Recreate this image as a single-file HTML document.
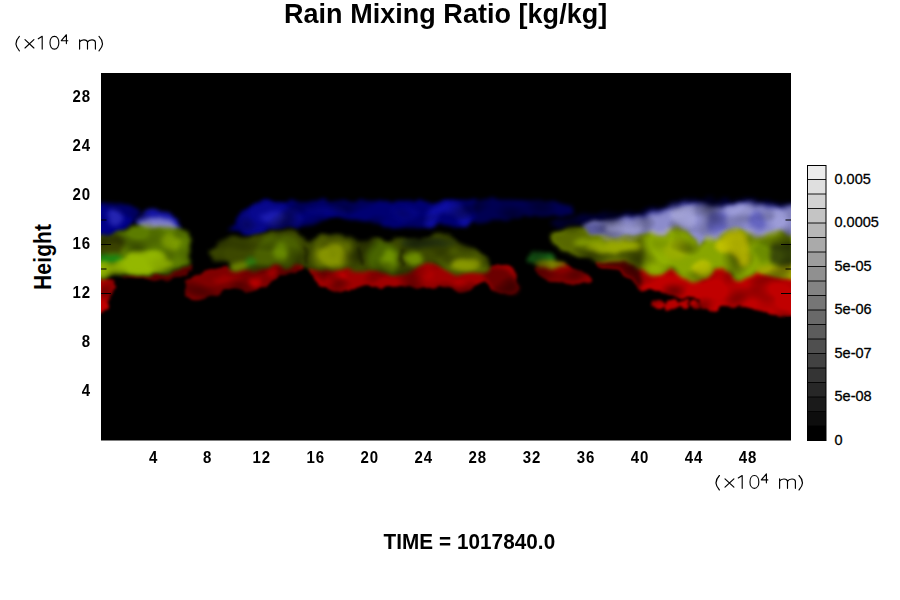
<!DOCTYPE html>
<html><head><meta charset="utf-8"><title>Rain Mixing Ratio</title>
<style>
html,body{margin:0;padding:0;background:#fff;}
body{width:900px;height:600px;position:relative;overflow:hidden;font-family:"Liberation Sans",sans-serif;color:#000;}
#plot{position:absolute;left:0;top:0;width:900px;height:600px;}
.title{position:absolute;left:284px;top:-1.8px;font-weight:bold;font-size:27px;line-height:30px;white-space:nowrap;letter-spacing:0.03px;transform:scale(1,1.045);transform-origin:0 0;}
.time{position:absolute;left:383.5px;top:529.2px;font-weight:bold;font-size:20.7px;line-height:24px;white-space:nowrap;letter-spacing:0.06px;transform:scale(1,1.06);transform-origin:0 0;}
.hgt{position:absolute;left:29.5px;top:290px;font-weight:bold;font-size:21px;line-height:24px;white-space:nowrap;transform:rotate(-90deg) scale(1,1.11);transform-origin:0 0;letter-spacing:0.15px;}
.yl{position:absolute;left:50px;width:41px;text-align:right;font-weight:bold;font-size:15px;line-height:20px;letter-spacing:0.9px;transform:scale(1,1.05);}
.xl{position:absolute;top:447.9px;width:40px;text-align:center;font-weight:bold;font-size:15px;line-height:20px;letter-spacing:0.9px;transform:scale(1,1.05);}
.cl{position:absolute;left:834.5px;font-size:14.5px;line-height:20px;letter-spacing:0px;white-space:nowrap;-webkit-text-stroke:0.3px #000;}
</style></head><body>
<svg id="plot" width="900" height="600" viewBox="0 0 900 600">
<defs>
<filter id="b1_5" x="90" y="180" width="710" height="150" filterUnits="userSpaceOnUse" color-interpolation-filters="sRGB"><feTurbulence type="fractalNoise" baseFrequency="0.07 0.09" numOctaves="2" seed="7" result="n"/><feDisplacementMap in="SourceGraphic" in2="n" scale="9" xChannelSelector="R" yChannelSelector="G" result="d"/><feGaussianBlur in="d" stdDeviation="1.5"/></filter>
<filter id="b1_6" x="90" y="180" width="710" height="150" filterUnits="userSpaceOnUse" color-interpolation-filters="sRGB"><feTurbulence type="fractalNoise" baseFrequency="0.07 0.09" numOctaves="2" seed="7" result="n"/><feDisplacementMap in="SourceGraphic" in2="n" scale="9" xChannelSelector="R" yChannelSelector="G" result="d"/><feGaussianBlur in="d" stdDeviation="1.6"/></filter>
<filter id="b2_0" x="90" y="180" width="710" height="150" filterUnits="userSpaceOnUse" color-interpolation-filters="sRGB"><feTurbulence type="fractalNoise" baseFrequency="0.07 0.09" numOctaves="2" seed="7" result="n"/><feDisplacementMap in="SourceGraphic" in2="n" scale="9" xChannelSelector="R" yChannelSelector="G" result="d"/><feGaussianBlur in="d" stdDeviation="2.0"/></filter>
<filter id="b2_5" x="90" y="180" width="710" height="150" filterUnits="userSpaceOnUse" color-interpolation-filters="sRGB"><feTurbulence type="fractalNoise" baseFrequency="0.07 0.09" numOctaves="2" seed="7" result="n"/><feDisplacementMap in="SourceGraphic" in2="n" scale="9" xChannelSelector="R" yChannelSelector="G" result="d"/><feGaussianBlur in="d" stdDeviation="2.5"/></filter>
<filter id="mt" x="101" y="195" width="690" height="125" filterUnits="userSpaceOnUse" color-interpolation-filters="sRGB"><feTurbulence type="fractalNoise" baseFrequency="0.04 0.06" numOctaves="1" seed="11"/><feColorMatrix type="matrix" values="0 0 0 0 0  0 0 0 0 0  0 0 0 0 0  1.8 0 0 0 -0.8"/><feGaussianBlur stdDeviation="1.2"/></filter>
<clipPath id="pc"><rect x="101" y="73" width="690" height="367.5"/></clipPath>
</defs>
<rect x="101" y="73" width="690" height="367.5" fill="#000"/>
<g clip-path="url(#pc)">
<g filter="url(#b2_5)" opacity="1">
<path d="M548.0 222.0C548.7 220.5 556.7 219.3 562.0 218.0C567.3 216.7 572.0 214.9 580.0 214.0C588.0 213.1 600.0 213.0 610.0 212.5C620.0 212.0 631.7 212.1 640.0 211.0C648.3 209.9 653.3 208.0 660.0 206.0C666.7 204.0 673.3 200.0 680.0 199.0C686.7 198.0 691.2 200.0 700.0 200.0C708.8 200.0 723.0 199.0 733.0 199.0C743.0 199.0 751.7 199.3 760.0 200.0C768.3 200.7 776.8 202.2 783.0 203.0C789.2 203.8 794.7 203.0 797.0 205.0C799.3 207.0 813.2 213.3 797.0 215.0C780.8 216.7 722.8 215.0 700.0 215.0C677.2 215.0 673.3 214.3 660.0 215.0C646.7 215.7 631.7 217.3 620.0 219.0C608.3 220.7 597.5 223.5 590.0 225.0C582.5 226.5 580.3 227.7 575.0 228.0C569.7 228.3 562.5 228.0 558.0 227.0C553.5 226.0 547.3 223.5 548.0 222.0Z" fill="#000034"/>
<path d="M610.0 221.0C614.2 219.7 619.2 219.0 625.0 218.0C630.8 217.0 640.0 216.1 645.0 215.0C650.0 213.9 652.2 212.6 655.0 211.5C657.8 210.4 659.8 209.4 661.7 208.5C663.7 207.6 664.5 206.9 666.7 206.0C668.9 205.1 672.3 203.8 675.0 203.0C677.7 202.2 678.8 201.5 683.0 201.5C687.2 201.5 694.5 202.6 700.0 203.0C705.5 203.4 710.5 204.1 716.0 204.0C721.5 203.9 726.0 202.6 733.0 202.5C740.0 202.4 749.7 202.8 758.0 203.5C766.3 204.2 776.5 205.8 783.0 206.5C789.5 207.2 794.7 205.8 797.0 208.0C799.3 210.2 813.2 218.0 797.0 220.0C780.8 222.0 726.2 219.7 700.0 220.0C673.8 220.3 656.7 221.0 640.0 222.0C623.3 223.0 605.0 226.2 600.0 226.0C595.0 225.8 605.8 222.3 610.0 221.0Z" fill="#34348c"/>
</g>
<g filter="url(#b2_0)" opacity="1">
<path d="M98.0 204.5C100.8 198.9 110.0 204.4 115.0 204.5C120.0 204.6 124.3 204.3 128.0 205.0C131.7 205.7 135.0 207.3 137.0 208.5C139.0 209.7 139.8 210.8 140.0 212.0C140.2 213.2 140.5 213.3 138.0 216.0C135.5 218.7 128.5 224.7 125.0 228.0C121.5 231.3 119.8 234.2 117.0 236.0C114.2 237.8 111.2 238.7 108.0 239.0C104.8 239.3 99.7 243.8 98.0 238.0C96.3 232.2 95.2 210.1 98.0 204.5Z" fill="#000088"/>
<path d="M136.0 223.0C136.0 221.0 138.2 218.2 140.0 216.0C141.8 213.8 144.5 211.2 147.0 210.0C149.5 208.8 151.7 208.5 155.0 209.0C158.3 209.5 163.2 211.2 167.0 213.0C170.8 214.8 175.5 218.2 178.0 220.0C180.5 221.8 181.7 222.7 182.0 224.0C182.3 225.3 183.7 227.2 180.0 228.0C176.3 228.8 166.7 229.0 160.0 229.0C153.3 229.0 144.0 229.0 140.0 228.0C136.0 227.0 136.0 225.0 136.0 223.0Z" fill="#1414a4"/>
<path d="M228.0 228.5C229.0 227.2 232.7 223.2 235.0 220.5C237.3 217.8 239.5 215.0 242.0 212.5C244.5 210.0 247.3 207.1 250.0 205.5C252.7 203.9 255.5 203.7 258.0 203.0C260.5 202.3 258.8 201.8 265.0 201.5C271.2 201.2 284.5 201.7 295.0 201.5C305.5 201.3 316.8 200.5 328.0 200.5C339.2 200.5 350.8 201.5 362.0 201.5C373.2 201.5 384.5 200.6 395.0 200.5C405.5 200.4 414.2 201.0 425.0 201.0C435.8 201.0 450.5 200.5 460.0 200.5C469.5 200.5 478.3 197.7 482.0 201.0C485.7 204.3 484.0 217.1 482.0 220.5C480.0 223.9 474.2 220.3 470.0 221.5C465.8 222.7 461.7 227.2 456.7 227.5C451.7 227.8 445.6 223.3 440.0 223.5C434.4 223.7 428.6 228.0 423.0 228.5C417.4 229.0 412.2 226.9 406.7 226.5C401.2 226.1 396.1 226.8 390.0 226.0C383.9 225.2 376.4 222.8 370.0 221.5C363.6 220.2 357.0 219.3 351.7 218.5C346.4 217.7 343.3 216.0 338.0 216.5C332.7 217.0 325.8 219.8 320.0 221.5C314.2 223.2 308.6 225.5 303.0 226.5C297.4 227.5 292.2 227.2 286.7 227.5C281.2 227.8 274.2 227.5 270.0 228.5C265.8 229.5 265.9 232.7 261.7 233.5C257.5 234.3 249.4 233.8 245.0 233.5C240.6 233.2 237.7 232.3 235.0 231.5C232.3 230.7 230.2 229.0 229.0 228.5C227.8 228.0 227.0 229.8 228.0 228.5Z" fill="#000072"/>
<path d="M476.0 201.5C480.0 197.7 492.7 199.8 500.0 199.5C507.3 199.2 512.5 199.7 520.0 200.0C527.5 200.3 537.5 200.8 545.0 201.5C552.5 202.2 560.2 203.4 565.0 204.5C569.8 205.6 572.8 206.8 574.0 208.0C575.2 209.2 574.3 210.8 572.0 212.0C569.7 213.2 565.3 214.2 560.0 215.0C554.7 215.8 546.7 216.5 540.0 217.0C533.3 217.5 526.7 217.5 520.0 218.0C513.3 218.5 507.3 219.2 500.0 220.0C492.7 220.8 480.0 225.6 476.0 222.5C472.0 219.4 472.0 205.3 476.0 201.5Z" fill="#000052"/>
</g>
<g filter="url(#b2_5)" opacity="1">
<ellipse cx="115" cy="217" rx="8" ry="8" fill="#2424b0"/>
<path d="M238.0 222.0C239.3 218.8 243.0 213.0 246.0 210.0C249.0 207.0 251.2 205.2 256.0 204.0C260.8 202.8 269.0 202.7 275.0 203.0C281.0 203.3 287.8 204.2 292.0 206.0C296.2 207.8 298.7 210.7 300.0 214.0C301.3 217.3 302.5 223.7 300.0 226.0C297.5 228.3 290.0 227.5 285.0 228.0C280.0 228.5 273.8 228.2 270.0 229.0C266.2 229.8 266.0 232.3 262.0 233.0C258.0 233.7 250.0 233.7 246.0 233.0C242.0 232.3 239.3 230.8 238.0 229.0C236.7 227.2 236.7 225.2 238.0 222.0Z" fill="#08088e"/>
<ellipse cx="272" cy="218" rx="12" ry="6" fill="#1c1cb0"/>
<ellipse cx="326" cy="211" rx="22" ry="4.5" fill="#040484"/>
<ellipse cx="405" cy="214" rx="13" ry="8" fill="#040480"/>
<path d="M424.0 226.0C423.7 223.2 426.0 215.7 428.0 212.0C430.0 208.3 432.7 205.7 436.0 204.0C439.3 202.3 444.0 201.7 448.0 202.0C452.0 202.3 456.7 204.0 460.0 206.0C463.3 208.0 466.3 211.3 468.0 214.0C469.7 216.7 471.0 220.0 470.0 222.0C469.0 224.0 464.3 226.7 462.0 226.0C459.7 225.3 458.3 220.2 456.0 218.0C453.7 215.8 450.7 213.3 448.0 213.0C445.3 212.7 442.0 213.8 440.0 216.0C438.0 218.2 437.7 223.8 436.0 226.0C434.3 228.2 432.0 229.0 430.0 229.0C428.0 229.0 424.3 228.8 424.0 226.0Z" fill="#0e0ea2"/>
</g>
<g filter="url(#b2_5)" opacity="1">
<path d="M584.0 227.0C585.8 225.3 589.0 224.2 595.0 223.0C601.0 221.8 611.7 220.8 620.0 220.0C628.3 219.2 639.2 218.8 645.0 218.0C650.8 217.2 652.2 215.9 655.0 215.0C657.8 214.1 659.8 213.5 661.7 212.5C663.7 211.5 664.5 210.1 666.7 209.0C668.9 207.9 672.3 206.8 675.0 206.0C677.7 205.2 678.8 204.5 683.0 204.5C687.2 204.5 694.5 205.6 700.0 206.0C705.5 206.4 710.5 207.1 716.0 207.0C721.5 206.9 726.0 205.6 733.0 205.5C740.0 205.4 749.7 205.8 758.0 206.5C766.3 207.2 776.5 208.8 783.0 209.5C789.5 210.2 794.7 205.8 797.0 211.0C799.3 216.2 798.1 236.1 797.0 241.0C795.9 245.9 793.9 241.9 790.5 240.7C787.1 239.5 780.7 234.3 776.7 234.0C772.7 233.7 770.0 237.9 766.7 239.0C763.4 240.1 760.0 241.0 756.7 240.7C753.4 240.4 750.0 238.5 746.7 237.0C743.4 235.5 739.8 232.0 736.7 231.5C733.6 231.0 731.3 232.5 728.0 234.0C724.7 235.5 720.2 239.4 716.7 240.7C713.2 242.0 709.5 240.6 706.7 242.0C703.9 243.4 702.3 248.7 700.0 249.0C697.7 249.3 695.8 246.8 693.0 244.0C690.2 241.2 686.0 234.2 683.0 232.0C680.0 229.8 678.3 229.9 675.0 230.7C671.7 231.5 667.2 235.6 663.0 237.0C658.8 238.4 654.4 238.7 650.0 239.0C645.6 239.3 641.7 238.6 636.7 239.0C631.7 239.4 627.0 241.7 620.0 241.5C613.0 241.3 601.0 239.4 595.0 238.0C589.0 236.6 585.8 234.8 584.0 233.0C582.2 231.2 582.2 228.7 584.0 227.0Z" fill="#8c8ccc"/>
<path d="M139.0 221.0C140.7 219.0 145.7 218.3 150.0 218.0C154.3 217.7 160.5 218.2 165.0 219.0C169.5 219.8 174.7 221.2 177.0 223.0C179.3 224.8 181.8 228.7 179.0 230.0C176.2 231.3 166.5 231.0 160.0 231.0C153.5 231.0 143.5 231.7 140.0 230.0C136.5 228.3 137.3 223.0 139.0 221.0Z" fill="#7c7ccc"/>
</g>
<g filter="url(#b2_5)" opacity="1">
<ellipse cx="717" cy="222" rx="10" ry="11" fill="#6464c0"/>
<ellipse cx="757" cy="220" rx="9" ry="9" fill="#6464c0"/>
<ellipse cx="624" cy="229" rx="20" ry="4.5" fill="#9c9cd4"/>
<ellipse cx="685" cy="217" rx="12" ry="11" fill="#a4a4dc"/>
<ellipse cx="681" cy="215" rx="5" ry="6" fill="#b4b4e4"/>
<ellipse cx="737" cy="211" rx="13" ry="5" fill="#9c9cd8"/>
<ellipse cx="781" cy="221" rx="9" ry="11" fill="#9c9cd8"/>
<ellipse cx="595" cy="229" rx="13" ry="5.5" fill="#5c5ca0"/>
</g>
<g filter="url(#b1_6)" opacity="1">
<path d="M98.0 279.5C100.0 273.8 107.3 279.2 110.0 280.0C112.7 280.8 113.2 282.7 114.0 284.0C114.8 285.3 115.2 286.2 115.0 288.0C114.8 289.8 113.8 292.7 113.0 295.0C112.2 297.3 111.2 299.8 110.0 302.0C108.8 304.2 108.0 306.0 106.0 308.0C104.0 310.0 99.3 318.8 98.0 314.0C96.7 309.2 96.0 285.2 98.0 279.5Z" fill="#c00000"/>
<path d="M120.0 276.0C120.0 275.4 130.0 274.8 135.0 274.5C140.0 274.2 144.8 273.9 150.0 274.0C155.2 274.1 161.0 275.7 166.0 275.0C171.0 274.3 176.2 272.2 180.0 270.0C183.8 267.8 187.3 262.3 189.0 262.0C190.7 261.7 190.5 265.8 190.0 268.0C189.5 270.2 188.5 273.2 186.0 275.0C183.5 276.8 180.2 278.2 175.0 279.0C169.8 279.8 161.7 279.7 155.0 279.5C148.3 279.3 140.8 278.6 135.0 278.0C129.2 277.4 120.0 276.6 120.0 276.0Z" fill="#5c0000"/>
<path d="M185.8 283.0C186.6 280.2 188.8 278.0 192.0 276.0C195.2 274.0 200.3 272.3 205.0 271.0C209.7 269.7 215.5 268.8 220.0 268.0C224.5 267.2 227.8 266.3 232.0 266.0C236.2 265.7 240.1 265.9 245.0 266.0C249.9 266.1 257.0 267.1 261.7 266.3C266.4 265.5 268.8 261.3 273.0 261.0C277.2 260.7 283.0 264.9 286.7 264.7C290.4 264.5 292.3 260.0 295.0 259.7C297.7 259.4 301.7 261.3 303.0 263.0C304.3 264.7 304.3 268.7 303.0 270.0C301.7 271.3 299.2 269.9 295.0 271.0C290.8 272.1 283.5 273.9 278.0 276.7C272.5 279.5 266.7 285.4 262.0 288.0C257.3 290.6 253.3 291.7 250.0 292.0C246.7 292.3 244.5 290.7 242.0 290.0C239.5 289.3 237.8 288.0 235.0 288.0C232.2 288.0 228.8 289.0 225.0 290.0C221.2 291.0 216.2 292.3 212.0 294.0C207.8 295.7 203.3 299.2 200.0 300.0C196.7 300.8 194.2 300.2 192.0 299.0C189.8 297.8 188.0 295.7 187.0 293.0C186.0 290.3 185.0 285.8 185.8 283.0Z" fill="#800000"/>
<path d="M308.0 265.5C308.6 264.2 311.7 267.5 315.0 267.5C318.3 267.5 324.4 266.3 328.0 265.5C331.6 264.7 333.9 262.5 336.7 262.5C339.5 262.5 340.8 264.9 345.0 265.5C349.2 266.1 356.7 265.5 361.7 265.8C366.7 266.1 369.4 266.7 375.0 267.5C380.6 268.3 389.7 270.2 395.0 270.5C400.3 270.8 403.4 270.4 406.7 269.2C410.0 268.0 412.3 265.2 415.0 263.5C417.7 261.8 420.8 259.9 423.0 259.2C425.2 258.5 425.7 258.6 428.0 259.2C430.3 259.8 434.2 261.4 437.0 262.5C439.8 263.6 441.7 263.8 445.0 265.5C448.3 267.2 452.0 271.7 456.7 272.5C461.4 273.3 467.8 271.3 473.0 270.5C478.2 269.7 484.3 268.5 488.0 267.5C491.7 266.5 492.2 264.8 495.0 264.5C497.8 264.2 501.5 264.2 505.0 265.5C508.5 266.8 514.0 268.9 516.0 272.5C518.0 276.1 517.7 283.6 517.0 287.0C516.3 290.4 514.5 292.0 512.0 293.0C509.5 294.0 505.3 294.0 502.0 293.0C498.7 292.0 495.0 289.0 492.0 287.0C489.0 285.0 486.3 281.3 484.0 281.0C481.7 280.7 480.3 283.5 478.0 285.0C475.7 286.5 472.7 288.9 470.0 290.0C467.3 291.1 465.0 291.7 462.0 291.5C459.0 291.3 454.6 289.6 452.0 289.0C449.4 288.4 448.7 288.3 446.7 288.0C444.7 287.7 443.6 287.0 440.0 287.0C436.4 287.0 430.0 288.0 425.0 288.0C420.0 288.0 414.2 287.3 410.0 287.0C405.8 286.7 402.5 286.1 400.0 286.0C397.5 285.9 398.7 286.6 395.0 286.7C391.3 286.8 385.0 286.5 378.0 286.7C371.0 286.9 359.9 287.2 353.0 288.0C346.1 288.8 340.9 291.5 336.7 291.7C332.5 291.9 330.8 290.4 328.0 289.0C325.2 287.6 322.7 285.3 320.0 283.0C317.3 280.7 313.7 277.9 311.7 275.0C309.7 272.1 307.4 266.8 308.0 265.5Z" fill="#a00000"/>
<path d="M535.0 266.0C536.3 264.4 540.8 263.8 545.0 263.5C549.2 263.2 555.8 263.5 560.0 264.0C564.2 264.5 566.3 265.5 570.0 266.7C573.7 267.9 578.7 269.3 582.0 271.0C585.3 272.7 588.4 275.0 590.0 276.7C591.6 278.4 592.4 279.9 591.7 281.0C591.0 282.1 588.3 283.0 586.0 283.5C583.7 284.0 581.5 284.1 578.0 284.0C574.5 283.9 569.2 283.4 565.0 283.0C560.8 282.6 556.3 282.2 553.0 281.5C549.7 280.8 547.7 280.4 545.0 279.0C542.3 277.6 538.7 275.2 537.0 273.0C535.3 270.8 533.7 267.6 535.0 266.0Z" fill="#8a0000"/>
<path d="M598.0 260.5C599.0 258.6 602.3 257.5 606.0 256.5C609.7 255.5 615.5 254.3 620.0 254.5C624.5 254.7 629.7 256.2 633.0 257.5C636.3 258.8 637.2 260.7 640.0 262.5C642.8 264.3 646.7 267.2 650.0 268.5C653.3 269.8 656.7 271.2 660.0 270.5C663.3 269.8 666.7 264.2 670.0 264.5C673.3 264.8 675.5 270.3 680.0 272.5C684.5 274.7 692.0 277.8 696.7 277.5C701.4 277.2 704.1 272.8 708.0 270.5C711.9 268.2 716.3 264.0 720.0 263.5C723.7 263.0 727.0 265.2 730.0 267.5C733.0 269.8 734.7 276.5 738.0 277.5C741.3 278.5 746.9 275.5 750.0 273.5C753.1 271.5 753.9 266.3 756.7 265.5C759.5 264.7 760.0 267.3 766.7 268.5C773.4 269.7 792.0 264.9 797.0 272.5C802.0 280.1 800.5 307.1 797.0 314.0C793.5 320.9 782.2 314.5 776.0 314.0C769.8 313.5 765.2 312.2 760.0 311.0C754.8 309.8 749.2 307.8 745.0 307.0C740.8 306.2 738.5 306.3 735.0 306.0C731.5 305.7 726.8 304.2 724.0 305.0C721.2 305.8 720.0 309.8 718.0 311.0C716.0 312.2 714.0 313.3 712.0 312.5C710.0 311.7 708.0 308.1 706.0 306.0C704.0 303.9 702.7 301.3 700.0 300.0C697.3 298.7 694.0 298.5 690.0 298.0C686.0 297.5 681.0 298.0 676.0 297.0C671.0 296.0 666.0 293.3 660.0 292.0C654.0 290.7 645.0 291.2 640.0 289.0C635.0 286.8 633.3 282.0 630.0 279.0C626.7 276.0 623.3 272.7 620.0 271.0C616.7 269.3 613.3 269.5 610.0 269.0C606.7 268.5 602.0 269.4 600.0 268.0C598.0 266.6 597.0 262.4 598.0 260.5Z" fill="#c00000"/>
<ellipse cx="658" cy="304.5" rx="7" ry="4.5" fill="#b80000"/>
<ellipse cx="672" cy="304.5" rx="7" ry="4.5" fill="#b80000"/>
<ellipse cx="684" cy="304" rx="5" ry="4" fill="#b80000"/>
<ellipse cx="695" cy="305" rx="4.5" ry="4" fill="#b80000"/>
<ellipse cx="705" cy="304.5" rx="5" ry="4.5" fill="#b80000"/>
</g>
<g filter="url(#b2_0)" opacity="1">
<ellipse cx="255" cy="284" rx="6" ry="5" fill="#b40000"/>
<ellipse cx="271" cy="272" rx="6" ry="4" fill="#b40000"/>
<ellipse cx="228" cy="280" rx="14" ry="5" fill="#980000"/>
<ellipse cx="335" cy="277" rx="10" ry="6" fill="#cc0000"/>
<ellipse cx="460" cy="285" rx="6" ry="4" fill="#b80000"/>
<ellipse cx="425" cy="272" rx="10" ry="7" fill="#b00000"/>
<path d="M480.0 267.0C481.3 265.2 488.2 266.0 492.0 266.5C495.8 267.0 499.7 268.2 503.0 270.0C506.3 271.8 509.5 274.5 512.0 277.0C514.5 279.5 517.2 282.5 518.0 285.0C518.8 287.5 518.7 290.4 517.0 292.0C515.3 293.6 511.2 294.7 508.0 294.5C504.8 294.3 501.0 292.8 498.0 291.0C495.0 289.2 492.3 286.3 490.0 284.0C487.7 281.7 485.7 279.8 484.0 277.0C482.3 274.2 478.7 268.8 480.0 267.0Z" fill="#6c0000"/>
<path d="M598.0 263.0C599.0 261.5 602.3 260.0 606.0 259.0C609.7 258.0 615.5 256.8 620.0 257.0C624.5 257.2 629.7 258.7 633.0 260.0C636.3 261.3 638.8 260.3 640.0 265.0C641.2 269.7 641.7 285.7 640.0 288.0C638.3 290.3 633.3 281.8 630.0 279.0C626.7 276.2 623.3 272.7 620.0 271.0C616.7 269.3 613.3 269.5 610.0 269.0C606.7 268.5 602.0 269.0 600.0 268.0C598.0 267.0 597.0 264.5 598.0 263.0Z" fill="#500000"/>
</g>
<g filter="url(#b2_0)" opacity="1">
<path d="M98.0 238.0C99.7 231.5 104.0 238.2 108.0 237.0C112.0 235.8 117.5 232.5 121.7 230.8C125.9 229.1 128.3 227.2 133.0 226.7C137.7 226.1 144.7 227.4 150.0 227.5C155.3 227.6 160.0 227.4 165.0 227.5C170.0 227.6 176.4 227.3 180.0 228.0C183.6 228.7 185.0 229.7 186.7 231.7C188.4 233.7 189.3 237.8 190.0 240.0C190.7 242.2 190.8 242.5 190.8 245.0C190.8 247.5 190.5 252.2 190.0 255.0C189.5 257.8 189.7 259.2 188.0 261.7C186.3 264.2 183.6 267.8 180.0 270.0C176.4 272.2 171.7 274.4 166.7 275.0C161.7 275.6 155.6 273.7 150.0 273.5C144.4 273.3 138.8 273.7 133.0 274.0C127.2 274.3 120.8 275.2 115.0 275.5C109.2 275.8 100.8 282.2 98.0 276.0C95.2 269.8 96.3 244.5 98.0 238.0Z" fill="#5c7c00"/>
<path d="M208.0 253.0C208.0 251.0 211.9 249.2 215.0 247.0C218.1 244.8 221.7 241.7 226.7 240.0C231.7 238.3 239.2 237.5 245.0 236.7C250.8 235.9 256.7 236.0 261.7 235.0C266.7 234.0 270.0 231.4 275.0 230.8C280.0 230.2 287.0 230.7 291.7 231.7C296.4 232.7 299.7 235.3 303.0 236.7C306.3 238.1 308.9 240.0 311.7 240.0C314.5 240.0 316.7 237.7 320.0 236.7C323.3 235.7 327.0 234.2 331.7 234.0C336.4 233.8 343.6 234.5 348.0 235.8C352.4 237.1 355.2 241.0 358.0 241.7C360.8 242.4 361.7 240.3 365.0 240.0C368.3 239.7 373.8 239.5 378.0 240.0C382.2 240.5 386.9 243.2 390.0 243.0C393.1 242.8 393.4 239.5 396.7 239.0C400.0 238.5 405.6 240.2 410.0 240.0C414.4 239.8 418.0 239.0 423.0 238.0C428.0 237.0 434.4 233.7 440.0 234.0C445.6 234.3 451.2 237.3 456.7 240.0C462.2 242.7 468.0 247.0 473.0 250.0C478.0 253.0 483.9 255.5 486.7 258.0C489.5 260.5 489.8 263.0 490.0 265.0C490.2 267.0 490.8 268.7 488.0 270.0C485.2 271.3 478.2 272.2 473.0 273.0C467.8 273.8 461.4 275.8 456.7 275.0C452.0 274.2 449.8 269.9 445.0 268.0C440.2 266.1 431.7 264.2 428.0 263.5C424.3 262.8 425.2 262.9 423.0 263.7C420.8 264.4 417.7 266.4 415.0 268.0C412.3 269.6 410.0 272.0 406.7 273.0C403.4 274.0 400.3 274.2 395.0 274.0C389.7 273.8 380.6 272.2 375.0 271.5C369.4 270.8 366.7 270.3 361.7 270.0C356.7 269.7 349.2 270.1 345.0 269.5C340.8 268.9 339.5 266.5 336.7 266.5C333.9 266.5 331.6 268.8 328.0 269.5C324.4 270.2 319.2 271.6 315.0 271.0C310.8 270.4 306.3 267.2 303.0 266.0C299.7 264.8 297.7 263.2 295.0 263.5C292.3 263.8 290.4 267.8 286.7 268.0C283.0 268.2 277.2 264.8 273.0 265.0C268.8 265.2 266.4 268.8 261.7 269.5C257.0 270.2 249.4 269.9 245.0 269.5C240.6 269.1 238.2 268.2 235.0 267.0C231.8 265.8 229.3 263.3 226.0 262.0C222.7 260.7 218.0 260.5 215.0 259.0C212.0 257.5 208.0 255.0 208.0 253.0Z" fill="#3c4800"/>
<path d="M528.0 257.0C528.7 255.4 531.2 253.3 534.0 252.5C536.8 251.7 541.8 251.4 545.0 252.0C548.2 252.6 552.0 254.3 553.0 256.0C554.0 257.7 553.2 260.8 551.0 262.0C548.8 263.2 543.5 263.5 540.0 263.5C536.5 263.5 532.0 263.1 530.0 262.0C528.0 260.9 527.3 258.6 528.0 257.0Z" fill="#186418"/>
<path d="M536.7 263.0C537.2 261.7 544.1 260.2 548.0 260.0C551.9 259.8 556.9 260.9 560.0 262.0C563.1 263.1 567.0 265.4 566.7 266.5C566.4 267.6 561.6 268.2 558.0 268.5C554.4 268.8 548.5 268.9 545.0 268.0C541.5 267.1 536.2 264.3 536.7 263.0Z" fill="#7c8000"/>
<path d="M554.0 236.0C555.1 234.4 558.7 232.3 561.7 231.5C564.7 230.7 568.5 231.0 572.0 231.0C575.5 231.0 579.2 230.9 583.0 231.7C586.8 232.4 588.8 234.4 595.0 235.5C601.2 236.6 613.0 238.4 620.0 238.5C627.0 238.6 631.7 236.8 636.7 236.0C641.7 235.2 645.6 234.5 650.0 234.0C654.4 233.5 658.8 234.2 663.0 233.0C667.2 231.8 671.7 227.5 675.0 226.7C678.3 225.9 680.0 225.8 683.0 228.0C686.0 230.2 690.2 237.2 693.0 240.0C695.8 242.8 697.7 245.3 700.0 245.0C702.3 244.7 703.9 239.4 706.7 238.0C709.5 236.6 713.2 238.0 716.7 236.7C720.2 235.4 724.7 231.5 728.0 230.0C731.3 228.5 733.6 227.0 736.7 227.5C739.8 228.0 743.4 231.5 746.7 233.0C750.0 234.5 753.4 236.4 756.7 236.7C760.0 237.0 763.4 236.1 766.7 235.0C770.0 233.9 772.7 229.7 776.7 230.0C780.7 230.3 787.1 235.5 790.5 236.7C793.9 237.9 795.9 230.3 797.0 237.0C798.1 243.7 802.0 271.0 797.0 277.0C792.0 283.0 773.4 274.2 766.7 273.0C760.0 271.8 759.5 269.2 756.7 270.0C753.9 270.8 753.1 276.1 750.0 278.0C746.9 279.9 741.3 282.8 738.0 281.7C734.7 280.6 733.0 274.0 730.0 271.7C727.0 269.4 723.7 267.4 720.0 268.0C716.3 268.6 711.9 272.7 708.0 275.0C704.1 277.3 701.4 281.4 696.7 281.7C692.0 282.0 684.5 279.0 680.0 276.7C675.5 274.4 673.3 268.3 670.0 268.0C666.7 267.7 663.3 274.3 660.0 275.0C656.7 275.7 653.3 273.4 650.0 272.0C646.7 270.6 642.8 268.4 640.0 266.7C637.2 265.0 636.3 263.1 633.0 261.7C629.7 260.3 625.0 258.9 620.0 258.5C615.0 258.1 608.5 259.3 603.0 259.0C597.5 258.7 592.8 258.2 586.7 256.7C580.7 255.2 572.0 252.6 566.7 250.0C561.4 247.4 557.1 243.3 555.0 241.0C552.9 238.7 552.9 237.6 554.0 236.0Z" fill="#88a600"/>
</g>
<g filter="url(#b2_5)" opacity="1">
<path d="M98.0 236.0C100.0 232.8 106.2 235.0 110.0 235.0C113.8 235.0 118.7 234.5 121.0 236.0C123.3 237.5 124.2 241.3 124.0 244.0C123.8 246.7 122.7 250.3 120.0 252.0C117.3 253.7 111.7 253.7 108.0 254.0C104.3 254.3 99.7 257.0 98.0 254.0C96.3 251.0 96.0 239.2 98.0 236.0Z" fill="#3a4200"/>
<path d="M98.0 256.0C100.3 254.6 108.0 255.1 112.0 255.0C116.0 254.9 120.8 254.5 122.0 255.5C123.2 256.5 121.3 259.8 119.0 261.0C116.7 262.2 111.5 262.6 108.0 263.0C104.5 263.4 99.7 264.7 98.0 263.5C96.3 262.3 95.7 257.4 98.0 256.0Z" fill="#148414"/>
<path d="M98.0 265.0C101.1 262.8 112.2 263.0 116.7 261.7C121.2 260.4 122.3 258.4 125.0 257.0C127.7 255.6 128.8 254.0 133.0 253.0C137.2 252.0 145.5 251.2 150.0 251.0C154.5 250.8 157.2 251.3 160.0 252.0C162.8 252.7 164.8 253.3 166.7 255.0C168.6 256.7 171.1 259.8 171.7 262.0C172.2 264.2 172.3 266.4 170.0 268.0C167.7 269.6 162.2 270.9 158.0 271.7C153.8 272.4 149.2 272.3 145.0 272.5C140.8 272.7 138.0 272.7 133.0 273.0C128.0 273.3 120.8 274.2 115.0 274.5C109.2 274.8 100.8 276.6 98.0 275.0C95.2 273.4 94.9 267.2 98.0 265.0Z" fill="#94b800"/>
<ellipse cx="171" cy="242" rx="9" ry="9" fill="#7c9c00"/>
<path d="M256.0 250.0C257.2 246.3 259.3 242.7 262.0 240.0C264.7 237.3 268.0 235.0 272.0 234.0C276.0 233.0 281.8 233.0 286.0 234.0C290.2 235.0 294.7 237.0 297.0 240.0C299.3 243.0 300.0 248.2 300.0 252.0C300.0 255.8 299.0 260.5 297.0 263.0C295.0 265.5 291.8 266.8 288.0 267.0C284.2 267.2 278.3 263.8 274.0 264.0C269.7 264.2 265.2 268.3 262.0 268.0C258.8 267.7 256.0 265.0 255.0 262.0C254.0 259.0 254.8 253.7 256.0 250.0Z" fill="#4a6000"/>
<ellipse cx="281" cy="252" rx="8" ry="9" fill="#668800"/>
<ellipse cx="250" cy="262" rx="6" ry="4" fill="#2a7a10"/>
<ellipse cx="240" cy="265" rx="9" ry="4.5" fill="#6c8400"/>
<path d="M312.0 254.0C311.7 249.8 313.7 245.8 316.0 243.0C318.3 240.2 322.0 238.0 326.0 237.0C330.0 236.0 336.0 236.0 340.0 237.0C344.0 238.0 347.8 240.0 350.0 243.0C352.2 246.0 353.0 251.2 353.0 255.0C353.0 258.8 352.2 264.0 350.0 266.0C347.8 268.0 343.3 266.7 340.0 267.0C336.7 267.3 333.7 267.8 330.0 268.0C326.3 268.2 321.0 270.3 318.0 268.0C315.0 265.7 312.3 258.2 312.0 254.0Z" fill="#5c6a00"/>
<path d="M317.0 256.0C316.3 252.8 319.5 249.0 322.0 247.0C324.5 245.0 328.7 243.8 332.0 244.0C335.3 244.2 339.7 245.7 342.0 248.0C344.3 250.3 345.7 255.2 346.0 258.0C346.3 260.8 346.0 264.0 344.0 265.0C342.0 266.0 337.0 263.8 334.0 264.0C331.0 264.2 328.8 267.3 326.0 266.0C323.2 264.7 317.7 259.2 317.0 256.0Z" fill="#869400"/>
<ellipse cx="334" cy="254" rx="4" ry="3" fill="#5c6c00"/>
<path d="M366.0 256.0C365.7 252.3 367.7 248.3 370.0 246.0C372.3 243.7 376.3 242.2 380.0 242.0C383.7 241.8 389.0 243.3 392.0 245.0C395.0 246.7 396.8 248.8 398.0 252.0C399.2 255.2 399.5 260.7 399.0 264.0C398.5 267.3 397.5 270.8 395.0 272.0C392.5 273.2 387.8 271.7 384.0 271.0C380.2 270.3 375.0 270.5 372.0 268.0C369.0 265.5 366.3 259.7 366.0 256.0Z" fill="#486400"/>
<ellipse cx="389" cy="261" rx="8" ry="10" fill="#6e9200"/>
<ellipse cx="413" cy="259" rx="9" ry="8" fill="#6c8c00"/>
<path d="M438.0 262.0C437.7 259.5 441.0 256.0 444.0 254.0C447.0 252.0 451.7 250.3 456.0 250.0C460.3 249.7 465.7 250.7 470.0 252.0C474.3 253.3 479.0 255.7 482.0 258.0C485.0 260.3 487.7 263.7 488.0 266.0C488.3 268.3 487.0 270.7 484.0 272.0C481.0 273.3 474.7 273.7 470.0 274.0C465.3 274.3 460.0 274.8 456.0 274.0C452.0 273.2 449.0 271.0 446.0 269.0C443.0 267.0 438.3 264.5 438.0 262.0Z" fill="#566800"/>
<ellipse cx="466" cy="264.5" rx="15" ry="7" fill="#889800"/>
<ellipse cx="428" cy="243" rx="28" ry="5" fill="#2c3c10"/>
<path d="M552.0 236.0C553.5 234.0 558.4 231.1 561.7 230.0C565.0 228.9 568.5 229.5 572.0 229.5C575.5 229.5 579.2 229.2 583.0 230.0C586.8 230.8 588.8 232.8 595.0 234.0C601.2 235.2 612.5 236.8 620.0 237.0C627.5 237.2 636.0 232.8 640.0 235.0C644.0 237.2 644.0 244.5 644.0 250.0C644.0 255.5 641.8 265.8 640.0 268.0C638.2 270.2 636.3 264.3 633.0 263.0C629.7 261.7 625.0 260.4 620.0 260.0C615.0 259.6 608.5 260.8 603.0 260.5C597.5 260.2 592.8 259.4 586.7 258.0C580.7 256.6 572.3 254.7 566.7 252.0C561.1 249.3 555.5 244.7 553.0 242.0C550.5 239.3 550.5 238.0 552.0 236.0Z" fill="#586800"/>
<ellipse cx="612" cy="247" rx="30" ry="6.5" fill="#98a800"/>
<ellipse cx="590" cy="244" rx="18" ry="7" fill="#7c9400"/>
<path d="M716.0 246.0C715.7 244.0 719.8 240.3 722.0 238.0C724.2 235.7 726.7 233.4 729.0 232.0C731.3 230.6 733.8 229.5 736.0 229.5C738.2 229.5 740.2 230.6 742.0 232.0C743.8 233.4 745.8 235.7 747.0 238.0C748.2 240.3 748.7 243.0 749.0 246.0C749.3 249.0 749.5 253.0 749.0 256.0C748.5 259.0 747.5 262.2 746.0 264.0C744.5 265.8 741.5 267.7 740.0 267.0C738.5 266.3 738.5 262.5 737.0 260.0C735.5 257.5 733.2 253.7 731.0 252.0C728.8 250.3 726.5 251.0 724.0 250.0C721.5 249.0 716.3 248.0 716.0 246.0Z" fill="#c0c000"/>
<ellipse cx="702" cy="268" rx="10" ry="9" fill="#b8c000"/>
<ellipse cx="657" cy="262" rx="12" ry="9" fill="#90b000"/>
<ellipse cx="675" cy="250" rx="12" ry="12" fill="#98ac00"/>
<ellipse cx="763" cy="252" rx="8" ry="11" fill="#6c8c00"/>
<ellipse cx="660" cy="244" rx="9" ry="4" fill="#7c9800"/>
<path d="M770.0 247.0C771.3 244.3 775.5 244.5 780.0 244.0C784.5 243.5 794.2 240.7 797.0 244.0C799.8 247.3 799.5 260.5 797.0 264.0C794.5 267.5 786.2 265.7 782.0 265.0C777.8 264.3 774.0 263.0 772.0 260.0C770.0 257.0 768.7 249.7 770.0 247.0Z" fill="#3a4a08"/>
<path d="M757.0 267.0C758.3 265.8 768.3 266.2 775.0 266.0C781.7 265.8 793.3 264.2 797.0 266.0C800.7 267.8 802.0 275.8 797.0 277.0C792.0 278.2 773.7 274.7 767.0 273.0C760.3 271.3 755.7 268.2 757.0 267.0Z" fill="#a4a400"/>
</g>
<g filter="url(#b2_0)" opacity="0.55">
<line x1="652" y1="234" x2="664" y2="232.5" stroke="#c0b8d4" stroke-width="3" stroke-linecap="round"/>
<line x1="664" y1="232.5" x2="675" y2="227" stroke="#c0b8d4" stroke-width="3" stroke-linecap="round"/>
<line x1="675" y1="227" x2="684" y2="229" stroke="#c0b8d4" stroke-width="3" stroke-linecap="round"/>
<line x1="707" y1="239" x2="717" y2="237" stroke="#c0b8d4" stroke-width="3" stroke-linecap="round"/>
<line x1="717" y1="237" x2="728" y2="231" stroke="#c0b8d4" stroke-width="3" stroke-linecap="round"/>
<line x1="728" y1="231" x2="737" y2="228" stroke="#c0b8d4" stroke-width="3" stroke-linecap="round"/>
<line x1="747" y1="233.5" x2="757" y2="237" stroke="#c0b8d4" stroke-width="3" stroke-linecap="round"/>
<line x1="757" y1="237" x2="767" y2="235.5" stroke="#c0b8d4" stroke-width="3" stroke-linecap="round"/>
<line x1="767" y1="235.5" x2="777" y2="231" stroke="#c0b8d4" stroke-width="3" stroke-linecap="round"/>
<line x1="600" y1="236.5" x2="620" y2="239.5" stroke="#c0b8d4" stroke-width="2.5" stroke-linecap="round"/>
<line x1="620" y1="239.5" x2="640" y2="237" stroke="#c0b8d4" stroke-width="2.5" stroke-linecap="round"/>
<line x1="142" y1="227.5" x2="175" y2="228" stroke="#c8c0dc" stroke-width="2.5" stroke-linecap="round"/>
</g>
<g filter="url(#b1_5)" opacity="1">
<line x1="305.5" y1="247" x2="306" y2="262" stroke="#283000" stroke-width="4" stroke-linecap="round"/>
<line x1="360" y1="247" x2="361" y2="262" stroke="#283000" stroke-width="4" stroke-linecap="round"/>
<line x1="401.5" y1="250" x2="402" y2="266" stroke="#283000" stroke-width="2.5" stroke-linecap="round"/>
</g>
<rect x="101" y="195" width="690" height="125" filter="url(#mt)" opacity="0.7"/>
<g filter="url(#b2_5)" opacity="0.7">
<path d="M718.0 246.0C717.7 244.3 721.0 241.2 723.0 239.0C725.0 236.8 727.8 234.3 730.0 233.0C732.2 231.7 734.2 231.0 736.0 231.0C737.8 231.0 739.3 231.7 741.0 233.0C742.7 234.3 744.8 236.8 746.0 239.0C747.2 241.2 747.7 243.2 748.0 246.0C748.3 248.8 748.5 253.2 748.0 256.0C747.5 258.8 746.2 261.7 745.0 263.0C743.8 264.3 742.3 264.8 741.0 264.0C739.7 263.2 738.7 260.2 737.0 258.0C735.3 255.8 733.0 252.5 731.0 251.0C729.0 249.5 727.2 249.8 725.0 249.0C722.8 248.2 718.3 247.7 718.0 246.0Z" fill="#c0c000"/>
<ellipse cx="702" cy="268" rx="8" ry="7" fill="#b8c000"/>
<path d="M98.0 266.0C101.1 264.2 112.2 264.2 116.7 263.0C121.2 261.8 122.3 259.9 125.0 258.5C127.7 257.1 128.8 255.5 133.0 254.5C137.2 253.5 145.5 252.7 150.0 252.5C154.5 252.3 157.4 252.9 160.0 253.5C162.6 254.1 164.1 254.6 165.7 256.0C167.3 257.4 169.3 260.2 169.7 262.0C170.1 263.8 169.9 265.6 168.0 267.0C166.1 268.4 161.8 269.8 158.0 270.5C154.2 271.2 149.2 271.2 145.0 271.5C140.8 271.8 138.0 271.7 133.0 272.0C128.0 272.3 120.8 273.2 115.0 273.5C109.2 273.8 100.8 275.2 98.0 274.0C95.2 272.8 94.9 267.8 98.0 266.0Z" fill="#94b800"/>
<ellipse cx="685" cy="217" rx="10" ry="9" fill="#a4a4dc"/>
<ellipse cx="624" cy="229" rx="18" ry="3.5" fill="#9c9cd4"/>
<ellipse cx="612" cy="247" rx="26" ry="5" fill="#98a800"/>
<ellipse cx="466" cy="264.5" rx="13" ry="6" fill="#889800"/>
<ellipse cx="332" cy="255" rx="10" ry="8" fill="#869400"/>
</g>
<g stroke="#000" stroke-width="1.2"><line x1="101" x2="106.5" y1="416.00" y2="416.00"/>
<line x1="791" x2="785.5" y1="416.00" y2="416.00"/>
<line x1="101" x2="111.0" y1="391.50" y2="391.50"/>
<line x1="791" x2="781.0" y1="391.50" y2="391.50"/>
<line x1="101" x2="106.5" y1="367.00" y2="367.00"/>
<line x1="791" x2="785.5" y1="367.00" y2="367.00"/>
<line x1="101" x2="111.0" y1="342.50" y2="342.50"/>
<line x1="791" x2="781.0" y1="342.50" y2="342.50"/>
<line x1="101" x2="106.5" y1="318.00" y2="318.00"/>
<line x1="791" x2="785.5" y1="318.00" y2="318.00"/>
<line x1="101" x2="111.0" y1="293.50" y2="293.50"/>
<line x1="791" x2="781.0" y1="293.50" y2="293.50"/>
<line x1="101" x2="106.5" y1="269.00" y2="269.00"/>
<line x1="791" x2="785.5" y1="269.00" y2="269.00"/>
<line x1="101" x2="111.0" y1="244.50" y2="244.50"/>
<line x1="791" x2="781.0" y1="244.50" y2="244.50"/>
<line x1="101" x2="106.5" y1="220.00" y2="220.00"/>
<line x1="791" x2="785.5" y1="220.00" y2="220.00"/>
<line x1="101" x2="111.0" y1="195.50" y2="195.50"/>
<line x1="791" x2="781.0" y1="195.50" y2="195.50"/>
<line x1="101" x2="106.5" y1="171.00" y2="171.00"/>
<line x1="791" x2="785.5" y1="171.00" y2="171.00"/>
<line x1="101" x2="111.0" y1="146.50" y2="146.50"/>
<line x1="791" x2="781.0" y1="146.50" y2="146.50"/>
<line x1="101" x2="106.5" y1="122.00" y2="122.00"/>
<line x1="791" x2="785.5" y1="122.00" y2="122.00"/>
<line x1="101" x2="111.0" y1="97.50" y2="97.50"/>
<line x1="791" x2="781.0" y1="97.50" y2="97.50"/></g>
</g>
<rect x="807" y="165.00" width="19" height="14.80" fill="rgb(236,236,236)"/>
<rect x="807" y="179.50" width="19" height="14.80" fill="rgb(223,223,223)"/>
<rect x="807" y="194.00" width="19" height="14.80" fill="rgb(210,210,210)"/>
<rect x="807" y="208.50" width="19" height="14.80" fill="rgb(196,196,196)"/>
<rect x="807" y="223.00" width="19" height="14.80" fill="rgb(183,183,183)"/>
<rect x="807" y="237.50" width="19" height="14.80" fill="rgb(170,170,170)"/>
<rect x="807" y="252.00" width="19" height="14.80" fill="rgb(157,157,157)"/>
<rect x="807" y="266.50" width="19" height="14.80" fill="rgb(144,144,144)"/>
<rect x="807" y="281.00" width="19" height="14.80" fill="rgb(131,131,131)"/>
<rect x="807" y="295.50" width="19" height="14.80" fill="rgb(118,118,118)"/>
<rect x="807" y="310.00" width="19" height="14.80" fill="rgb(105,105,105)"/>
<rect x="807" y="324.50" width="19" height="14.80" fill="rgb(92,92,92)"/>
<rect x="807" y="339.00" width="19" height="14.80" fill="rgb(79,79,79)"/>
<rect x="807" y="353.50" width="19" height="14.80" fill="rgb(66,66,66)"/>
<rect x="807" y="368.00" width="19" height="14.80" fill="rgb(52,52,52)"/>
<rect x="807" y="382.50" width="19" height="14.80" fill="rgb(39,39,39)"/>
<rect x="807" y="397.00" width="19" height="14.80" fill="rgb(26,26,26)"/>
<rect x="807" y="411.50" width="19" height="14.80" fill="rgb(13,13,13)"/>
<rect x="807" y="426.00" width="19" height="14.80" fill="rgb(0,0,0)"/>
<line x1="807" x2="826" y1="179.50" y2="179.50" stroke="#000" stroke-width="0.9"/>
<line x1="807" x2="826" y1="194.00" y2="194.00" stroke="#000" stroke-width="0.9"/>
<line x1="807" x2="826" y1="208.50" y2="208.50" stroke="#000" stroke-width="0.9"/>
<line x1="807" x2="826" y1="223.00" y2="223.00" stroke="#000" stroke-width="0.9"/>
<line x1="807" x2="826" y1="237.50" y2="237.50" stroke="#000" stroke-width="0.9"/>
<line x1="807" x2="826" y1="252.00" y2="252.00" stroke="#000" stroke-width="0.9"/>
<line x1="807" x2="826" y1="266.50" y2="266.50" stroke="#000" stroke-width="0.9"/>
<line x1="807" x2="826" y1="281.00" y2="281.00" stroke="#000" stroke-width="0.9"/>
<line x1="807" x2="826" y1="295.50" y2="295.50" stroke="#000" stroke-width="0.9"/>
<line x1="807" x2="826" y1="310.00" y2="310.00" stroke="#000" stroke-width="0.9"/>
<line x1="807" x2="826" y1="324.50" y2="324.50" stroke="#000" stroke-width="0.9"/>
<line x1="807" x2="826" y1="339.00" y2="339.00" stroke="#000" stroke-width="0.9"/>
<line x1="807" x2="826" y1="353.50" y2="353.50" stroke="#000" stroke-width="0.9"/>
<line x1="807" x2="826" y1="368.00" y2="368.00" stroke="#000" stroke-width="0.9"/>
<line x1="807" x2="826" y1="382.50" y2="382.50" stroke="#000" stroke-width="0.9"/>
<line x1="807" x2="826" y1="397.00" y2="397.00" stroke="#000" stroke-width="0.9"/>
<line x1="807" x2="826" y1="411.50" y2="411.50" stroke="#000" stroke-width="0.9"/>
<line x1="807" x2="826" y1="426.00" y2="426.00" stroke="#000" stroke-width="0.9"/>
<rect x="807.5" y="165.5" width="18.5" height="275" fill="none" stroke="#000" stroke-width="1"/>
<g transform="translate(10 28)" fill="none" stroke="#000" stroke-width="1.15" stroke-linecap="round" stroke-linejoin="round">
<path d="M9.4 8.3C5 13 5 18 9.4 22.8"/>
<path d="M15 11.7L23.9 20M23.9 11.7L15 20"/>
<path d="M28.3 10.8L32.2 8.3L32.2 21.1"/>
<path d="M44.4 8.3C38.5 8.3 38.5 21.1 44.4 21.1C50.3 21.1 50.3 8.3 44.4 8.3Z"/>
<path d="M56.4 15.6L56.4 6.7L51.3 12.7L57.8 12.7"/>
<path d="M69.6 11.7L69.6 21.1M69.6 14C71 11.3 77 10.8 77.5 14.2L77.5 21.1M77.5 14.2C79 11.3 85 10.8 85.4 14.2L85.4 21.1"/>
<path d="M89 8.3C93.5 13 93.5 18 89 22.8"/>
</g>
<g transform="translate(710 467.2)" fill="none" stroke="#000" stroke-width="1.15" stroke-linecap="round" stroke-linejoin="round">
<path d="M9.4 8.3C5 13 5 18 9.4 22.8"/>
<path d="M15 11.7L23.9 20M23.9 11.7L15 20"/>
<path d="M28.3 10.8L32.2 8.3L32.2 21.1"/>
<path d="M44.4 8.3C38.5 8.3 38.5 21.1 44.4 21.1C50.3 21.1 50.3 8.3 44.4 8.3Z"/>
<path d="M56.4 15.6L56.4 6.7L51.3 12.7L57.8 12.7"/>
<path d="M69.6 11.7L69.6 21.1M69.6 14C71 11.3 77 10.8 77.5 14.2L77.5 21.1M77.5 14.2C79 11.3 85 10.8 85.4 14.2L85.4 21.1"/>
<path d="M89 8.3C93.5 13 93.5 18 89 22.8"/>
</g>
</svg>
<div class="title">Rain Mixing Ratio [kg/kg]</div>
<div class="hgt">Height</div>
<div class="time">TIME = 1017840.0</div>
<div class="yl" style="top:380.6px">4</div>
<div class="yl" style="top:331.6px">8</div>
<div class="yl" style="top:282.6px">12</div>
<div class="yl" style="top:233.6px">16</div>
<div class="yl" style="top:184.6px">20</div>
<div class="yl" style="top:135.6px">24</div>
<div class="yl" style="top:86.6px">28</div>
<div class="xl" style="left:133.7px">4</div>
<div class="xl" style="left:187.7px">8</div>
<div class="xl" style="left:241.8px">12</div>
<div class="xl" style="left:295.8px">16</div>
<div class="xl" style="left:349.8px">20</div>
<div class="xl" style="left:403.8px">24</div>
<div class="xl" style="left:457.8px">28</div>
<div class="xl" style="left:511.9px">32</div>
<div class="xl" style="left:565.9px">36</div>
<div class="xl" style="left:619.9px">40</div>
<div class="xl" style="left:673.9px">44</div>
<div class="xl" style="left:727.9px">48</div>
<div class="cl" style="top:168.5px">0.005</div>
<div class="cl" style="top:212.0px">0.0005</div>
<div class="cl" style="top:255.5px">5e-05</div>
<div class="cl" style="top:299.0px">5e-06</div>
<div class="cl" style="top:342.5px">5e-07</div>
<div class="cl" style="top:386.0px">5e-08</div>
<div class="cl" style="top:429.5px">0</div>
</body></html>
